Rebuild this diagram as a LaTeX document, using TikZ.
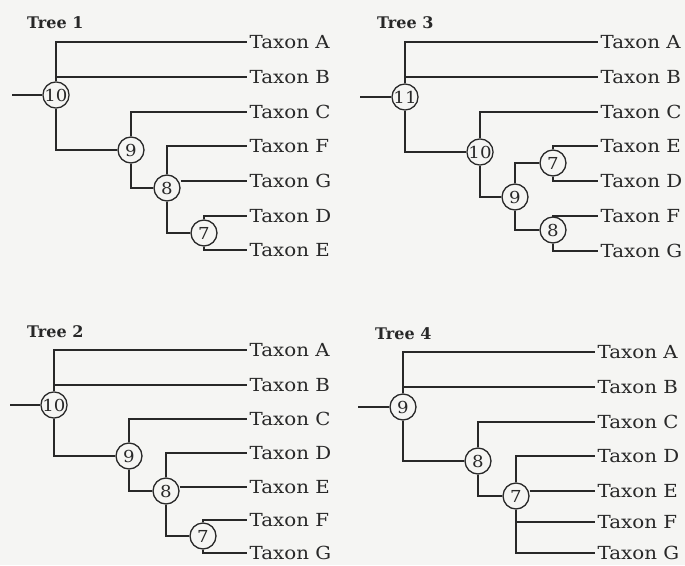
\documentclass[tikz,border=0pt]{standalone}
\usepackage{fontspec}
\setmainfont{DejaVu Serif}
\newfontfamily\taxfont[FakeStretch=1.1]{DejaVu Serif}
\definecolor{ink}{RGB}{40,40,40}
\definecolor{paper}{RGB}{245,245,243}
\tikzset{
  br/.style={draw=ink, line width=1.8pt},
  inode/.style={circle, draw=ink, line width=1.3pt, fill=paper, minimum size=26pt, inner sep=0pt, text=ink, font=\taxfont\fontsize{16.5}{17}\selectfont},
  taxon/.style={anchor=west, inner xsep=2.5pt, inner ysep=0.5pt, text=ink, font=\taxfont\fontsize{18}{18}\selectfont},
  ttl/.style={anchor=base west, inner sep=0pt, text=ink, font=\bfseries\fontsize{16}{18}\selectfont}
}
\begin{document}
\begin{tikzpicture}[x=1pt,y=-1pt]
\fill[paper] (0,0) rectangle (685,565);
\useasboundingbox (0,0) rectangle (685,565);

% ---------- Tree 1 ----------
\node[ttl] (t1) at (27,28) {Tree 1};
\foreach \n/\y in {A/42,B/77,C/112,F/146,G/181,D/216,E/250}
  \node[taxon] (a\n) at (247,\y) {Taxon \n};
\coordinate (ar) at (12,95);
\node[inode] (a10) at (56,95) {10};
\node[inode] (a9) at (131,150) {9};
\node[inode] (a8) at (167,188) {8};
\node[inode] (a7) at (204,233) {7};
\draw[br] (ar) -- (a10.west);
\draw[br] (a10.north) |- (aA.west);
\draw[br] (a10.north) |- (aB.west);
\draw[br] (a10.south) |- (a9.west);
\draw[br] (a9.north) |- (aC.west);
\draw[br] (a9.south) |- (a8.west);
\draw[br] (a8.north) |- (aF.west);
\draw[br] (a8.east |- aG.west) -- (aG.west);
\draw[br] (a8.south) |- (a7.west);
\draw[br] (a7.north) |- (aD.west);
\draw[br] (a7.south) |- (aE.west);

% ---------- Tree 3 ----------
\node[ttl] (t3) at (377,28) {Tree 3};
\foreach \n/\y in {A/42,B/77,C/112,E/146,D/181,F/216,G/251}
  \node[taxon] (c\n) at (598,\y) {Taxon \n};
\coordinate (cr) at (360,97);
\node[inode] (c11) at (405,97) {11};
\node[inode] (c10) at (480,152) {10};
\node[inode] (c9) at (515,197) {9};
\node[inode] (c7) at (553,163) {7};
\node[inode] (c8) at (553,230) {8};
\draw[br] (cr) -- (c11.west);
\draw[br] (c11.north) |- (cA.west);
\draw[br] (c11.north) |- (cB.west);
\draw[br] (c11.south) |- (c10.west);
\draw[br] (c10.north) |- (cC.west);
\draw[br] (c10.south) |- (c9.west);
\draw[br] (c9.north) |- (c7.west);
\draw[br] (c9.south) |- (c8.west);
\draw[br] (c7.north) |- (cE.west);
\draw[br] (c7.south) |- (cD.west);
\draw[br] (c8.north) |- (cF.west);
\draw[br] (c8.south) |- (cG.west);

% ---------- Tree 2 ----------
\node[ttl] (t2) at (27,337) {Tree 2};
\foreach \n/\y in {A/350,B/385,C/419,D/453,E/487,F/520,G/553}
  \node[taxon] (b\n) at (247,\y) {Taxon \n};
\coordinate (br) at (10,405);
\node[inode] (b10) at (54,405) {10};
\node[inode] (b9) at (129,456) {9};
\node[inode] (b8) at (166,491) {8};
\node[inode] (b7) at (203,536) {7};
\draw[br] (br) -- (b10.west);
\draw[br] (b10.north) |- (bA.west);
\draw[br] (b10.north) |- (bB.west);
\draw[br] (b10.south) |- (b9.west);
\draw[br] (b9.north) |- (bC.west);
\draw[br] (b9.south) |- (b8.west);
\draw[br] (b8.north) |- (bD.west);
\draw[br] (b8.east |- bE.west) -- (bE.west);
\draw[br] (b8.south) |- (b7.west);
\draw[br] (b7.north) |- (bF.west);
\draw[br] (b7.south) |- (bG.west);

% ---------- Tree 4 ----------
\node[ttl] (t4) at (375,339) {Tree 4};
\foreach \n/\y in {A/352,B/387,C/422,D/456,E/491,F/522,G/553}
  \node[taxon] (d\n) at (595,\y) {Taxon \n};
\coordinate (dr) at (358,407);
\node[inode] (d9) at (403,407) {9};
\node[inode] (d8) at (478,461) {8};
\node[inode] (d7) at (516,496) {7};
\draw[br] (dr) -- (d9.west);
\draw[br] (d9.north) |- (dA.west);
\draw[br] (d9.north) |- (dB.west);
\draw[br] (d9.south) |- (d8.west);
\draw[br] (d8.north) |- (dC.west);
\draw[br] (d8.south) |- (d7.west);
\draw[br] (d7.north) |- (dD.west);
\draw[br] (d7.east |- dE.west) -- (dE.west);
\draw[br] (d7.south) |- (dF.west);
\draw[br] (d7.south) |- (dG.west);
\end{tikzpicture}
\end{document}
